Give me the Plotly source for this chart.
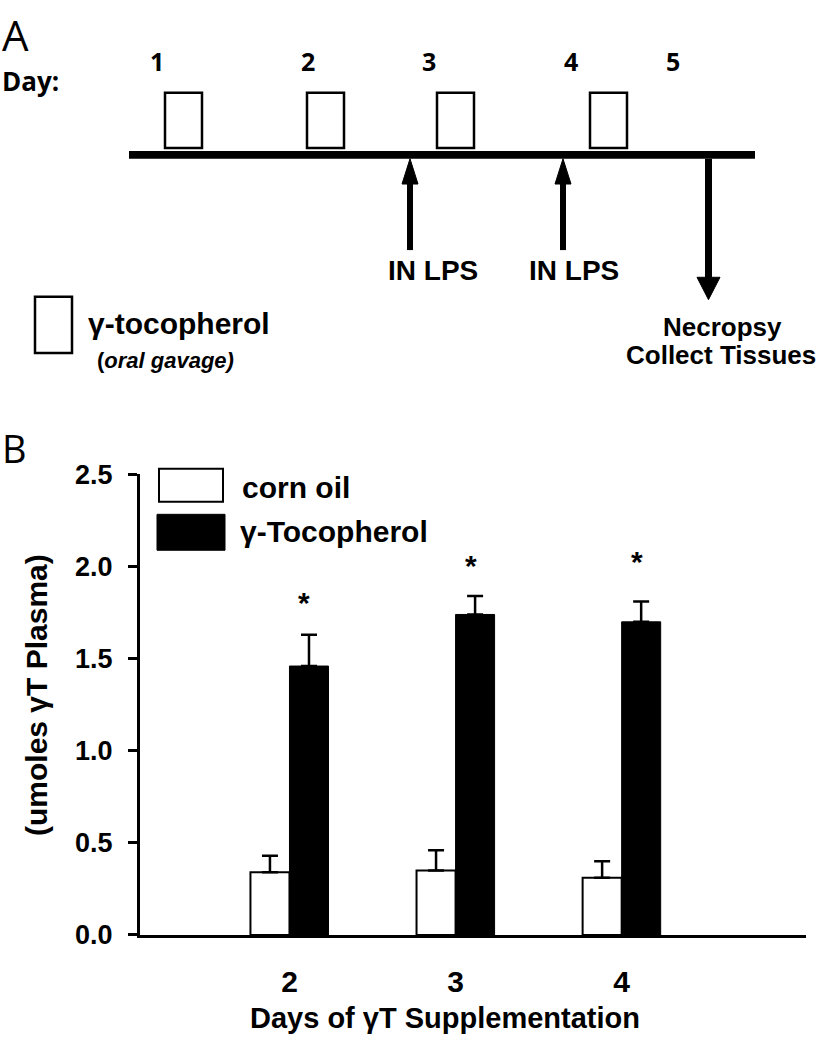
import plotly.graph_objects as go

# ---------------- data (panel B) ----------------
days = [2, 3, 4]
day_labels = ["2", "3", "4"]
corn_oil = [0.34, 0.35, 0.31]
corn_oil_err = [0.09, 0.11, 0.09]
gamma_t = [1.46, 1.74, 1.70]
gamma_t_err = [0.17, 0.10, 0.11]
sig_y = [1.84, 2.04, 2.06]
y_ticks = [0.0, 0.5, 1.0, 1.5, 2.0, 2.5]

# ---------------- panel A schedule ----------------
timeline_days = ["1", "2", "3", "4", "5"]

W, H = 821, 1050


def px(x):
    return x / W


def py(y):
    return 1 - y / H


ARIAL = "Liberation Sans, Arial, sans-serif"
CAL = "Open Sans, Noto Sans, sans-serif"

fig = go.Figure()
fig.add_trace(go.Bar(
    x=days, y=corn_oil, name="corn oil",
    marker=dict(color="white", line=dict(color="black", width=2)),
    error_y=dict(type="data", array=corn_oil_err, symmetric=False,
                 arrayminus=[0, 0, 0], color="black", thickness=2.5, width=8),
))
fig.add_trace(go.Bar(
    x=days, y=gamma_t, name="\u03b3-Tocopherol",
    marker=dict(color="black", line=dict(color="black", width=1)),
    error_y=dict(type="data", array=gamma_t_err, symmetric=False,
                 arrayminus=[0, 0, 0], color="black", thickness=2.5, width=8),
))

shapes = []
annotations = []


def rect(x0, y0, x1, y1, fill="white", lw=2.5):
    shapes.append(dict(type="rect", xref="paper", yref="paper",
                       x0=px(x0), x1=px(x1), y0=py(y1), y1=py(y0),
                       fillcolor=fill, line=dict(color="black", width=lw)))


def tri(pts):
    path = "M " + " L ".join(f"{px(a)},{py(b)}" for a, b in pts) + " Z"
    shapes.append(dict(type="path", xref="paper", yref="paper", path=path,
                       fillcolor="black", line=dict(color="black", width=1)))


def text(x, y, s, size, family=ARIAL, bold=True, xanchor="center"):
    annotations.append(dict(
        x=px(x), y=py(y), xref="paper", yref="paper", text=s, showarrow=False,
        xanchor=xanchor, yanchor="middle",
        font=dict(size=size, family=family, color="black",
                  weight="bold" if bold else "normal")))


# ---- Panel A ----
text(0, 20, "A", 42, family=CAL, bold=False, xanchor="left")
text(0, 68, "Day:", 26, family=CAL, xanchor="left")
for lab, xx in zip(timeline_days, [157, 308, 429, 571, 673]):
    text(xx, 47, lab, 25, family=CAL)

# timeline bar
rect(129, 140, 755, 148, fill="black", lw=0)
# gavage boxes
for x0 in [165, 307, 437, 590]:
    rect(x0, 80, x0 + 37, 137)

# up arrows (IN LPS)
for xc in [410, 563]:
    rect(xc - 3, 165, xc + 3, 242, fill="black", lw=0)
    tri([(xc, 148), (xc - 8, 174), (xc + 8, 174)])
text(433, 263, "IN LPS", 28)
text(574, 263, "IN LPS", 28)

# down arrow (necropsy)
rect(705, 148, 712, 272, fill="black", lw=0)
tri([(697, 270), (720, 270), (708.5, 293)])
text(722, 321, "Necropsy", 26)
text(721, 350, "Collect Tissues", 26)

# legend of panel A
rect(35, 290, 72, 348)
text(86, 318, "\u03b3-tocopherol", 30, xanchor="left")
text(95, 356, "(<i>oral gavage)</i>", 22, xanchor="left")

# ---- Panel B ----
text(0, 446, "B", 38, family=CAL, bold=False, xanchor="left")
rect(159, 467, 223, 501, lw=2)
text(240, 486, "corn oil", 30, xanchor="left")
rect(157, 514, 225, 551, fill="black", lw=1)
text(238, 532, "\u03b3-Tocopherol", 30, xanchor="left")

# axis titles
annotations.append(dict(x=px(36), y=py(700), xref="paper", yref="paper",
                        text="(umoles \u03b3T Plasma)", showarrow=False, textangle=-90,
                        xanchor="center", yanchor="middle",
                        font=dict(size=30, family=ARIAL, color="black", weight="bold")))
text(445, 1033, "Days of \u03b3T Supplementation", 29)

# significance stars (data coords)
for d, s in zip(days, sig_y):
    annotations.append(dict(x=d + 0.09, y=s, xref="x", yref="y", text="*",
                            showarrow=False, xanchor="center", yanchor="middle",
                            yshift=-6,
                            font=dict(size=30, family=ARIAL, color="black", weight="bold")))

fig.update_layout(
    width=W, height=H,
    margin=dict(l=0, r=0, t=0, b=0),
    paper_bgcolor="white", plot_bgcolor="white",
    barmode="group", bargap=0.53, bargroupgap=0.0,
    showlegend=False,
    shapes=shapes, annotations=annotations,
    xaxis=dict(domain=[px(140), px(806)], range=[1.1, 5.11],
               tickvals=days, ticktext=day_labels, ticks="",
               showline=True, linecolor="black", linewidth=3,
               showgrid=False, zeroline=False, ticklabelstandoff=18,
               tickfont=dict(size=30, family=ARIAL, color="black", weight="bold")),
    yaxis=dict(domain=[py(947), py(473)], range=[0, 2.5],
               tickvals=y_ticks, tickformat=".1f", ticks="outside",
               ticklen=9, tickwidth=3, tickcolor="black",
               showline=True, linecolor="black", linewidth=3,
               showgrid=False, zeroline=False, ticklabelstandoff=10,
               tickfont=dict(size=27, family=ARIAL, color="black", weight="bold")),
)

post = (
    "document.documentElement.style.margin='0';"
    "document.documentElement.style.overflow='hidden';"
    "document.body.style.margin='0';"
    "document.body.style.overflow='hidden';"
    "var gd=document.getElementById('{plot_id}');"
    "gd.style.position='fixed';gd.style.top='0px';gd.style.left='0px';"
)

fig.write_html("out.html", config={"displayModeBar": False}, post_script=post)
